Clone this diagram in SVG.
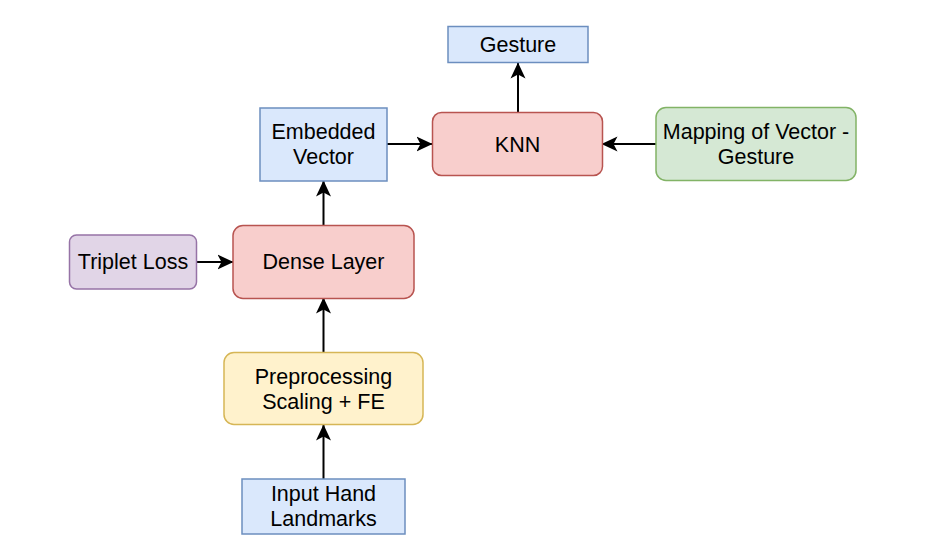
<svg xmlns="http://www.w3.org/2000/svg" width="927" height="557" viewBox="0 0 927 557">
<style>
text{font-family:"Liberation Sans",Arial,sans-serif;font-size:21.5px;fill:#000;text-anchor:middle}
.blue{fill:#dae8fc;stroke:#6c8ebf;stroke-width:1.5}
.red{fill:#f8cecc;stroke:#b85450;stroke-width:1.5}
.green{fill:#d5e8d4;stroke:#82b366;stroke-width:1.5}
.yellow{fill:#fff2cc;stroke:#d6b656;stroke-width:1.5}
.purple{fill:#e1d5e7;stroke:#9673a6;stroke-width:1.5}
.edge{fill:none;stroke:#000;stroke-width:2;marker-end:url(#arr)}
</style>
<defs>
<marker id="arr" markerUnits="userSpaceOnUse" viewBox="0 0 16 16" refX="15.5" refY="8" markerWidth="16" markerHeight="16" orient="auto">
<path d="M0,0.5 L16,8 L0,15.5 L4,8 z" fill="#000"/>
</marker>
</defs>
<rect width="927" height="557" fill="#fff"/>
<g id="edges">
<path class="edge" d="M323.5,479 V425"/>
<path class="edge" d="M323.5,352 V298"/>
<path class="edge" d="M323.5,225 V181"/>
<path class="edge" d="M197,262 H233"/>
<path class="edge" d="M387,144 H432"/>
<path class="edge" d="M518,112 V63"/>
<path class="edge" d="M656,144 H602"/>
</g>
<g id="gesture"><rect class="blue" x="448" y="26.5" width="140" height="36"/><text x="518" y="52">Gesture</text></g>
<g id="embedded"><rect class="blue" x="260" y="108" width="127" height="73"/><text x="323.5" y="139">Embedded</text><text x="323.5" y="164">Vector</text></g>
<g id="knn"><rect class="red" x="432.5" y="112.5" width="170" height="63" rx="9"/><text x="517.5" y="152">KNN</text></g>
<g id="mapping"><rect class="green" x="656" y="107.5" width="200" height="73" rx="10"/><text x="756" y="139">Mapping of Vector -</text><text x="756" y="164">Gesture</text></g>
<g id="triplet"><rect class="purple" x="69.5" y="235" width="127" height="54" rx="7"/><text x="133" y="269">Triplet Loss</text></g>
<g id="dense"><rect class="red" x="233" y="225.5" width="181" height="73" rx="10"/><text x="323.5" y="269">Dense Layer</text></g>
<g id="preprocessing"><rect class="yellow" x="224" y="352.5" width="199" height="72" rx="10"/><text x="323.5" y="384">Preprocessing</text><text x="323.5" y="409">Scaling + FE</text></g>
<g id="input"><rect class="blue" x="242" y="479" width="163" height="55"/><text x="323.5" y="501">Input Hand</text><text x="323.5" y="526">Landmarks</text></g>
</svg>
